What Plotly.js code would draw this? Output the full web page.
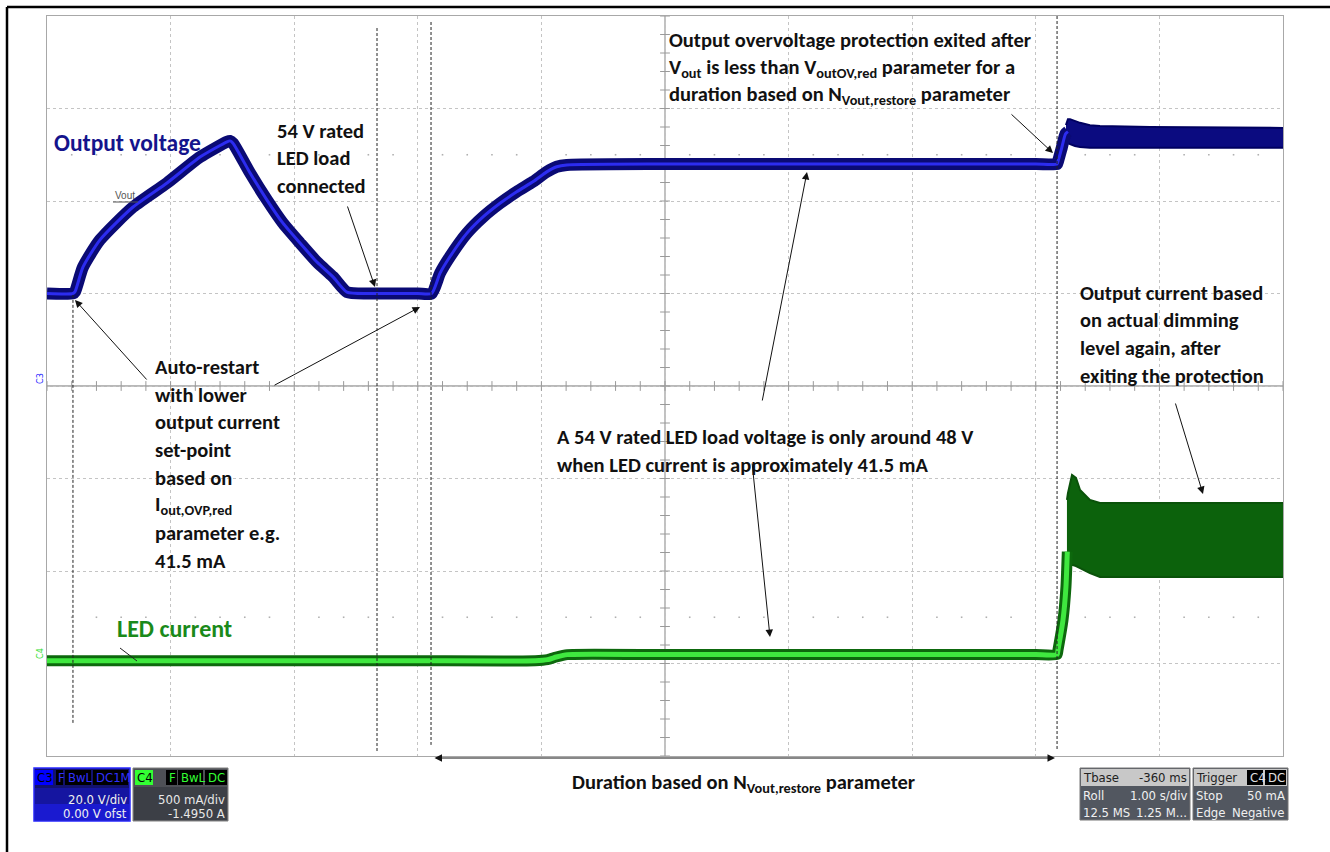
<!DOCTYPE html>
<html>
<head>
<meta charset="utf-8">
<script src="https://cdn.plot.ly/plotly-3.0.1.min.js"></script>
<style>
  html, body { margin: 0; padding: 0; background: #ffffff; }
  #chart { width: 1330px; height: 852px; }
</style>
</head>
<body>
<div id="chart"></div>
<script>
// ---------------- DATA ----------------
// Output voltage (C3, 20 V/div), time in s (1 s/div)
const voutTime = [0, 0.21, 0.227, 0.291, 0.429, 0.696, 0.971, 1.238, 1.456, 1.481, 1.505, 1.642, 1.78, 1.909, 2.047, 2.184, 2.314, 2.427, 2.6, 3.0, 3.112, 3.18, 3.261, 3.396, 3.53, 3.665, 3.8, 3.934, 4.043, 4.124, 4.205, 5.0, 6.0, 7.0, 8.0, 8.172, 8.18, 8.21, 8.24, 8.26];
const voutValue = [20, 20, 20.4, 25.7, 31.6, 38.7, 43.9, 49.5, 52.8, 53.0, 52.5, 46.1, 40.2, 35.2, 30.9, 26.8, 23.6, 20.3, 20.0, 20.0, 20.0, 24.4, 28.0, 33.0, 36.6, 39.5, 42.0, 44.2, 46.3, 47.4, 47.8, 48.0, 48.0, 48.0, 48.0, 48.0, 48.6, 51.5, 54.5, 55.0];
// Output voltage ripple envelope after leaving the protection
const voutBandTime  = [8.244, 8.26, 8.277, 8.317, 8.358, 8.438, 8.519, 8.924, 10];
const voutBandUpper = [56.4, 57.7, 57.7, 57.3, 56.9, 56.4, 56.2, 56.0, 55.8];
const voutBandLower = [53.2, 52.5, 52.3, 51.9, 51.7, 51.5, 51.5, 51.5, 51.5];

// LED current (C4, 500 mA/div, offset -1.495 A), in A
const iledTime  = [0, 1.0, 2.0, 3.0, 3.95, 4.05, 4.12, 4.21, 5.0, 6.0, 7.0, 8.0, 8.172, 8.18, 8.22, 8.244, 8.255];
const iledValue = [0.010, 0.010, 0.010, 0.010, 0.010, 0.016, 0.030, 0.043, 0.043, 0.043, 0.043, 0.043, 0.043, 0.07, 0.23, 0.41, 0.60];
// LED current ripple envelope after leaving the protection
const iledBandTime  = [8.252, 8.26, 8.293, 8.325, 8.358, 8.438, 8.519, 8.924, 10];
const iledBandUpper = [0.879, 0.916, 1.014, 0.998, 0.933, 0.879, 0.863, 0.863, 0.863];
const iledBandLower = [0.538, 0.538, 0.528, 0.522, 0.511, 0.484, 0.463, 0.463, 0.463];

// Cursor (dashed vertical marker) times, s
const cursorTimes = [0.21, 2.67, 3.107, 8.172];

// ---------------- LAYOUT HELPERS ----------------
const W = 1330, H = 852;
const ML = 47, MR = 47, MT = 16, MB = 96;
const PW = W - ML - MR, PH = H - MT - MB;
const P = x => (x - ML) / PW;          // pixel x -> paper
const Q = y => (H - MB - y) / PH;      // pixel y -> paper
const FONT = 'Carlito, Calibri, Lato, "Noto Sans", sans-serif';
const SCOPE = '"Liberation Sans Narrow", "Arial Narrow", "DejaVu Sans Condensed", "Liberation Sans", sans-serif';

const traces = [];

// graticule decoration: center-line ticks and the +/-2.5 div dot rows
const tx = [], ty = [], vx = [], vy = [], dx = [], dy = [];
for (let i = 0; i <= 50; i++) { tx.push(i * 0.2); ty.push(0); }
for (let i = 0; i <= 40; i++) { vx.push(5); vy.push(-80 + i * 4); }
for (let i = 1; i < 50; i++) { if (i % 5) { dx.push(i * 0.2, i * 0.2); dy.push(50, -50); } }
traces.push({x: dx, y: dy, mode: 'markers', hoverinfo: 'skip', showlegend: false,
  marker: {symbol: 'square', size: 1.6, color: '#b0b0b0', line: {width: 0}}});
traces.push({x: tx, y: ty, mode: 'markers', hoverinfo: 'skip', showlegend: false,
  marker: {symbol: 'line-ns', size: 7, line: {width: 1, color: '#9a9a9a'}}});
traces.push({x: vx, y: vy, mode: 'markers', hoverinfo: 'skip', showlegend: false,
  marker: {symbol: 'line-ew', size: 7, line: {width: 1, color: '#9a9a9a'}}});

// LED current band
traces.push({x: iledBandTime, y: iledBandLower, yaxis: 'y2', mode: 'lines', showlegend: false,
  line: {color: '#0a520a', width: 2}, hoverinfo: 'skip'});
traces.push({x: iledBandTime, y: iledBandUpper, yaxis: 'y2', mode: 'lines', showlegend: false,
  fill: 'tonexty', fillcolor: '#0c620c', line: {color: '#0a520a', width: 2}, hoverinfo: 'skip'});
// LED current trace
traces.push({x: iledTime, y: iledValue, yaxis: 'y2', mode: 'lines', showlegend: false,
  line: {color: '#0d680d', width: 11, shape: 'spline', smoothing: 0.5}, hoverinfo: 'skip'});
traces.push({x: iledTime, y: iledValue, yaxis: 'y2', mode: 'lines', showlegend: false,
  line: {color: '#3fe83f', width: 5, shape: 'spline', smoothing: 0.5}, hoverinfo: 'skip'});

// Output voltage band
traces.push({x: voutBandTime, y: voutBandLower, mode: 'lines', showlegend: false,
  line: {color: '#000060', width: 2}, hoverinfo: 'skip'});
traces.push({x: voutBandTime, y: voutBandUpper, mode: 'lines', showlegend: false,
  fill: 'tonexty', fillcolor: '#0b0b80', line: {color: '#000060', width: 2}, hoverinfo: 'skip'});
// Output voltage trace
traces.push({x: voutTime, y: voutValue, mode: 'lines', showlegend: false,
  line: {color: '#0a0a74', width: 12, shape: 'spline', smoothing: 0.6}, hoverinfo: 'skip'});
traces.push({x: voutTime, y: voutValue, mode: 'lines', showlegend: false,
  line: {color: '#2c2cf0', width: 3, shape: 'spline', smoothing: 0.6}, hoverinfo: 'skip'});

// trigger markers
traces.push({x: [10.04], y: [0.05], yaxis: 'y2', mode: 'markers', showlegend: false, cliponaxis: false,
  marker: {symbol: 'triangle-left', size: 8, color: '#33dd33'}, hoverinfo: 'skip'});
traces.push({x: [4.636], y: [-81.5], mode: 'markers', showlegend: false, cliponaxis: false,
  marker: {symbol: 'triangle-up', size: 8, color: '#33dd33'}, hoverinfo: 'skip'});

// ---------------- SHAPES ----------------
const shapes = [];
// outer black frame (top and left)
shapes.push({type: 'line', xref: 'paper', yref: 'paper', x0: P(7), x1: P(1330), y0: Q(7), y1: Q(7), line: {color: '#000', width: 2.5}});
shapes.push({type: 'line', xref: 'paper', yref: 'paper', x0: P(7), x1: P(7), y0: Q(7), y1: Q(852), line: {color: '#000', width: 2.5}});
// center cross lines
shapes.push({type: 'line', xref: 'x', yref: 'y', x0: 5, x1: 5, y0: -80, y1: 80, line: {color: '#a0a0a0', width: 1.3}, layer: 'below'});
shapes.push({type: 'line', xref: 'x', yref: 'y', x0: 0, x1: 10, y0: 0, y1: 0, line: {color: '#a0a0a0', width: 1.3}, layer: 'below'});
// cursors
const cursorSpan = [[19.7, -72.9], [77.4, -79.1], [78.7, -77.6], [80, -78.7]];
cursorTimes.forEach((t, i) => {
  shapes.push({type: 'line', xref: 'x', yref: 'y', x0: t, x1: t, y0: cursorSpan[i][0], y1: cursorSpan[i][1],
    line: {color: '#222', width: 1, dash: '3px,2px'}});
});
// small pointer lines
shapes.push({type: 'line', xref: 'paper', yref: 'paper', x0: P(120), y0: Q(648), x1: P(137), y1: Q(661), line: {color: '#222', width: 1}});
shapes.push({type: 'line', xref: 'paper', yref: 'paper', x0: P(113), y0: Q(202), x1: P(138), y1: Q(202), line: {color: '#555', width: 1}});

// scope info boxes
function rect(x0, y0, x1, y1, fill, lineColor, lw) {
  shapes.push({type: 'rect', xref: 'paper', yref: 'paper', x0: P(x0), x1: P(x1), y0: Q(y1), y1: Q(y0),
    fillcolor: fill, line: {color: lineColor || fill, width: lw === undefined ? 0 : lw}});
}
// C3 box
rect(34, 768, 130, 821, '#12126e', '#2a2aff', 1.5);
rect(35, 788, 129, 804, '#1515a0');
rect(35, 804, 129, 820, '#1a1ad0');
rect(35, 770, 53, 785, '#0000ff');
rect(56, 770, 63, 785, '#000');
rect(65, 770, 91, 785, '#000');
rect(93, 770, 128, 785, '#000');
// C4 box
rect(133, 768, 228, 821, '#4e5056', '#808080', 1);
rect(134, 787, 227, 820, '#3c3f46');
rect(135, 770, 153, 785, '#33ff33');
rect(166, 770, 177, 785, '#000');
rect(178, 770, 203, 785, '#000');
rect(205, 770, 227, 785, '#000');
// Tbase box
rect(1080, 768, 1190, 820, '#525760', '#777', 1);
rect(1081, 769, 1189, 786, '#c8c8c8');
// Trigger box
rect(1193, 768, 1288, 820, '#525760', '#777', 1);
rect(1194, 769, 1287, 786, '#c8c8c8');
rect(1247, 770, 1263, 785, '#000');
rect(1265, 770, 1286, 785, '#000');

// ---------------- ANNOTATIONS ----------------
const ann = [];
const TS = 20.5;
function txt(s, x, y, o) {
  o = o || {};
  ann.push({text: s, xref: 'paper', yref: 'paper', x: P(x), y: Q(y), xanchor: o.anchor || 'left', yanchor: 'middle',
    showarrow: false, textangle: o.angle || 0,
    font: {family: o.family || FONT, size: o.size || TS, color: o.color || '#111', weight: o.weight === undefined ? 700 : o.weight}});
}
function arrow(tx, ty, hx, hy, both) {
  ann.push({text: '', xref: 'paper', yref: 'paper', x: P(hx), y: Q(hy), axref: 'pixel', ayref: 'pixel',
    ax: tx - hx, ay: ty - hy, showarrow: true, arrowhead: 2, arrowsize: 1.5, arrowwidth: 1, arrowcolor: '#111',
    arrowside: both ? 'end+start' : 'end', standoff: 0, startstandoff: 0});
}

txt('Output voltage', 52, 143, {color: '#14148c', size: 23.5});
txt('LED current', 115, 628, {color: '#1a8a1a', size: 24});
txt('Vout', 113, 196, {color: '#555', size: 10, weight: 400, family: '"Liberation Sans", Arial, sans-serif'});

['54 V rated', 'LED load', 'connected'].forEach((s, i) => txt(s, 275, 131 + i * 27.5, {}));
['Output overvoltage protection exited after',
 'V<sub>out</sub> is less than V<sub>outOV,red</sub> parameter for a',
 'duration based on N<sub>Vout,restore</sub> parameter'].forEach((s, i) => txt(s, 667, 40 + i * 27.5, {}));
['Auto-restart', 'with lower', 'output current', 'set-point', 'based on', 'I<sub>out,OVP,red</sub>', 'parameter e.g.', '41.5 mA']
  .forEach((s, i) => txt(s, 153, 367 + i * 27.7, {}));
['A 54 V rated LED load voltage is only around 48 V', 'when LED current is approximately 41.5 mA']
  .forEach((s, i) => txt(s, 555, 437 + i * 28, {}));
['Output current based', 'on actual dimming', 'level again, after', 'exiting the protection']
  .forEach((s, i) => txt(s, 1078, 293 + i * 27.5, {}));
txt('Duration based on N<sub>Vout,restore</sub> parameter', 570, 783, {});

arrow(347, 205, 375, 287);
arrow(148, 381, 75, 300);
arrow(273, 386, 420, 307);
arrow(1010, 113, 1053, 153);
arrow(762, 402, 807, 172);
arrow(752, 462, 770, 637);
arrow(1175, 402, 1203, 494);
arrow(433, 758, 1055, 758, true);

// channel markers
txt('C3', 40, 379, {color: '#2a2aff', size: 9, weight: 400, angle: -90, anchor: 'center', family: SCOPE});
txt('C4', 40, 654, {color: '#33dd33', size: 9, weight: 400, angle: -90, anchor: 'center', family: SCOPE});

// scope box texts
const S = {family: SCOPE, size: 13, weight: 400};
function stxt(s, x, y, color, anchor) { txt(s, x, y, Object.assign({}, S, {color: color, anchor: anchor || 'left'})); }
stxt('C3', 35, 778, '#000');
stxt('F', 56, 778, '#3030ff');
stxt('BwL', 66, 778, '#3030ff');
stxt('DC1M', 94, 778, '#3030ff');
stxt('20.0 V/div', 129, 799, '#f0f0f0', 'right');
stxt('0.00 V ofst', 129, 813, '#f0f0f0', 'right');
stxt('C4', 135, 778, '#000');
stxt('F', 167, 778, '#33ff33');
stxt('BwL', 179, 778, '#33ff33');
stxt('DC', 206, 778, '#33ff33');
stxt('500 mA/div', 227, 799, '#e8e8e8', 'right');
stxt('-1.4950 A', 227, 813, '#e8e8e8', 'right');
stxt('Tbase', 1081, 777, '#222');
stxt('-360 ms', 1189, 777, '#222', 'right');
stxt('Roll', 1081, 796, '#f0f0f0');
stxt('1.00 s/div', 1189, 796, '#f0f0f0', 'right');
stxt('12.5 MS', 1081, 812, '#f0f0f0');
stxt('1.25 M...', 1189, 812, '#f0f0f0', 'right');
stxt('Trigger', 1194, 777, '#222');
stxt('C4', 1248, 777, '#e0e0e0');
stxt('DC', 1266, 777, '#e0e0e0');
stxt('Stop', 1194, 796, '#f0f0f0');
stxt('50 mA', 1287, 796, '#f0f0f0', 'right');
stxt('Edge', 1194, 812, '#f0f0f0');
stxt('Negative', 1287, 812, '#f0f0f0', 'right');

const grid = {showgrid: true, gridcolor: '#c4c4c4', griddash: 'dot', gridwidth: 1, zeroline: false,
  showticklabels: false, ticks: '', showline: true, mirror: true, linecolor: '#a8a8a8', linewidth: 1, fixedrange: true};

const layout = {
  width: W, height: H,
  margin: {l: ML, r: MR, t: MT, b: MB, pad: 0},
  paper_bgcolor: '#ffffff', plot_bgcolor: '#ffffff',
  showlegend: false,
  xaxis: Object.assign({}, grid, {range: [0, 10], dtick: 1, tick0: 0}),
  yaxis: Object.assign({}, grid, {range: [-80, 80], dtick: 20, tick0: 0}),
  yaxis2: {overlaying: 'y', range: [-0.505, 3.495], visible: false, showgrid: false, zeroline: false, fixedrange: true},
  shapes: shapes,
  annotations: ann
};

Plotly.newPlot('chart', traces, layout, {staticPlot: true, displayModeBar: false});
</script>
</body>
</html>
